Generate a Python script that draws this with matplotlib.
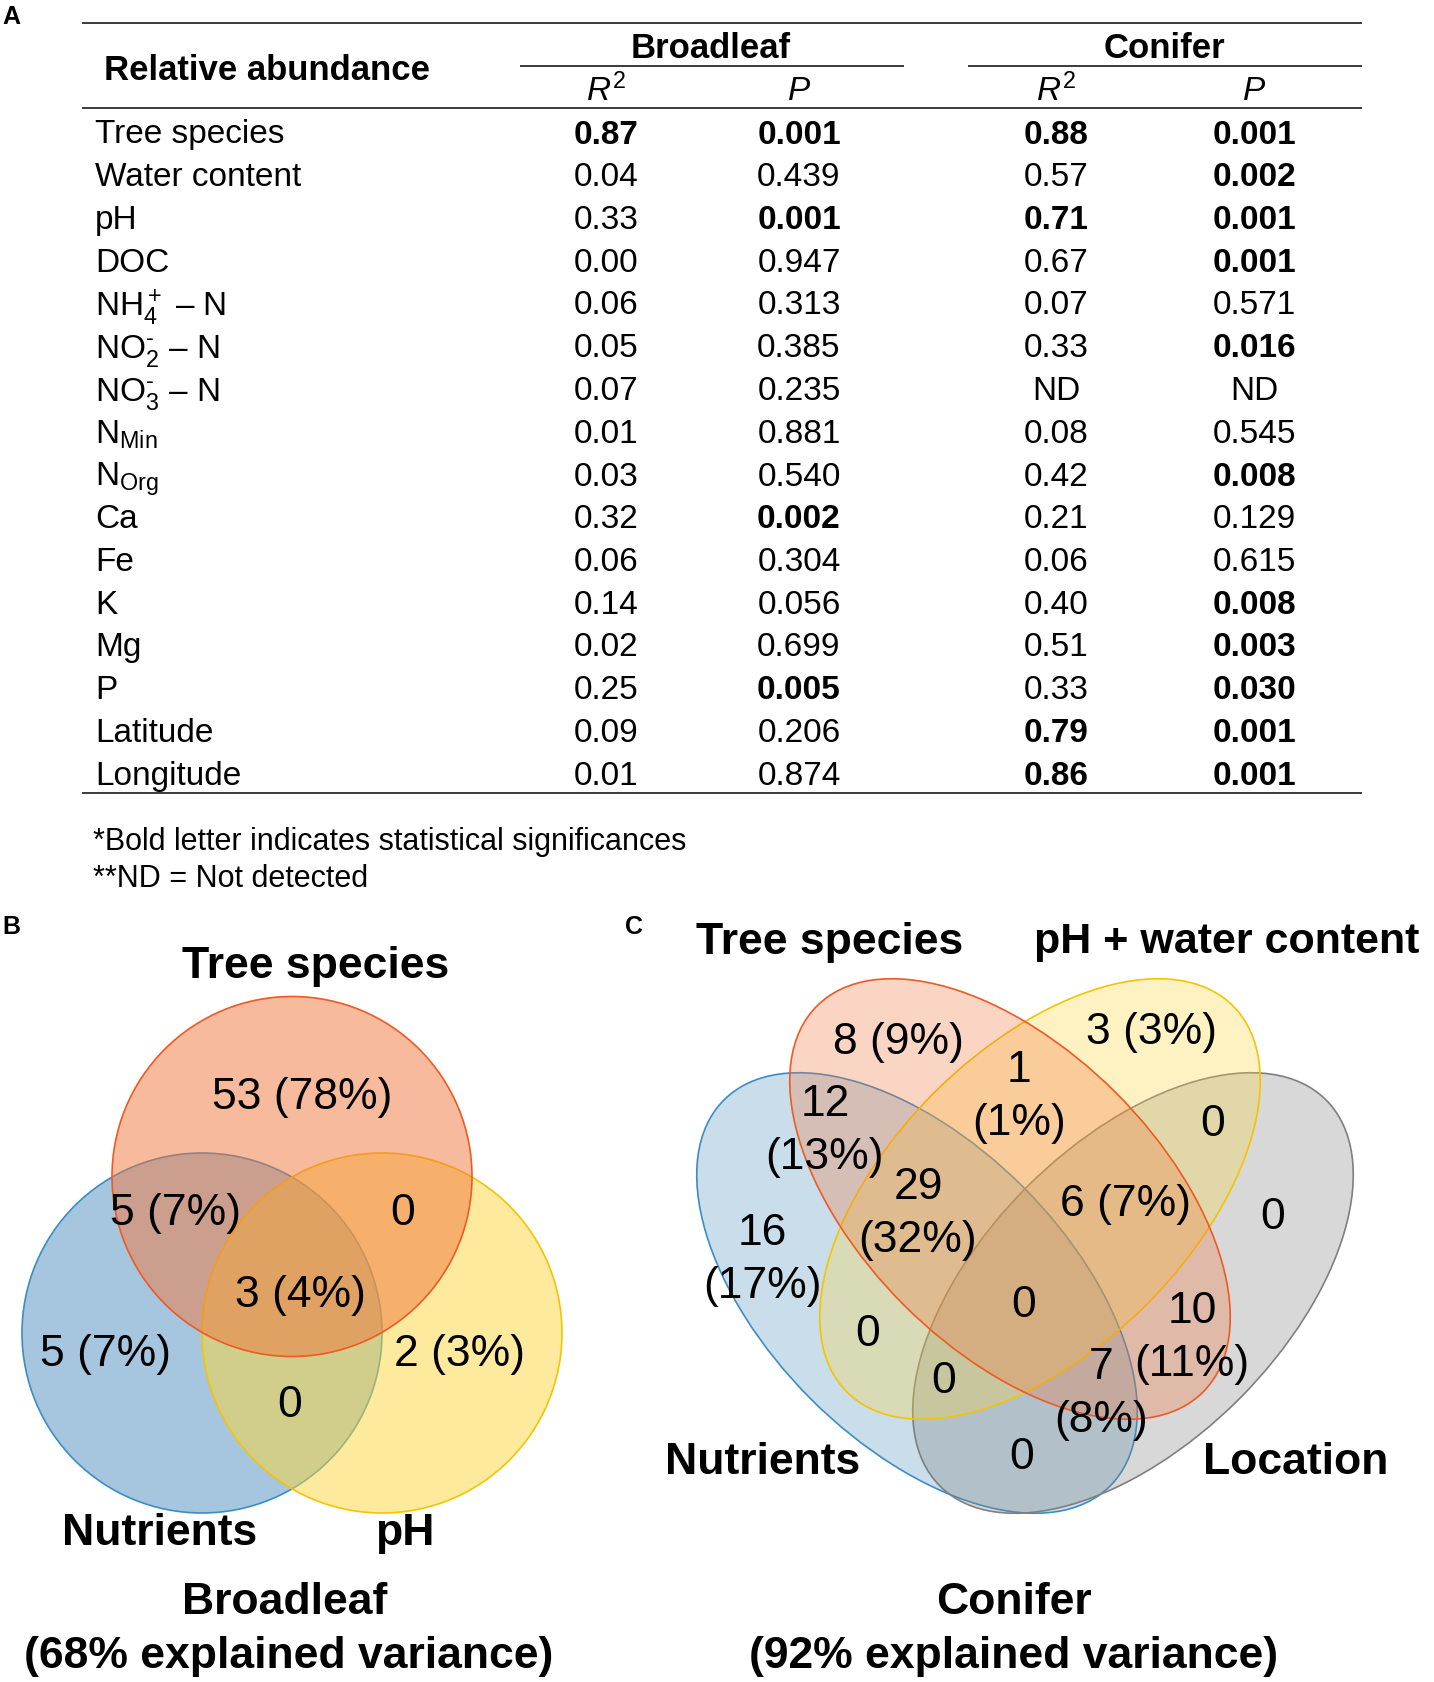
import matplotlib
matplotlib.use("Agg")
import matplotlib.pyplot as plt
from matplotlib.patches import Ellipse, Circle

plt.rcParams['font.family'] = ['Liberation Sans', 'DejaVu Sans']
plt.rcParams['mathtext.fontset'] = 'custom'
plt.rcParams['mathtext.rm'] = 'Liberation Sans'
plt.rcParams['mathtext.it'] = 'Liberation Sans:italic'
plt.rcParams['mathtext.bf'] = 'Liberation Sans:bold'

# ---------------- data ----------------
row_labels = ['Tree species', 'Water content', 'pH', 'DOC',
              r'NH$_4^+$ – N', r'NO$_2^{\text{-}}$ – N', r'NO$_3^{\text{-}}$ – N',
              r'N$_{\mathrm{Min}}$', r'N$_{\mathrm{Org}}$',
              'Ca', 'Fe', 'K', 'Mg', 'P', 'Latitude', 'Longitude']
broad_r2 = [0.87, 0.04, 0.33, 0.00, 0.06, 0.05, 0.07, 0.01, 0.03, 0.32, 0.06, 0.14, 0.02, 0.25, 0.09, 0.01]
broad_p = [0.001, 0.439, 0.001, 0.947, 0.313, 0.385, 0.235, 0.881, 0.540, 0.002, 0.304, 0.056, 0.699, 0.005, 0.206, 0.874]
conif_r2 = [0.88, 0.57, 0.71, 0.67, 0.07, 0.33, None, 0.08, 0.42, 0.21, 0.06, 0.40, 0.51, 0.33, 0.79, 0.86]
conif_p = [0.001, 0.002, 0.001, 0.001, 0.571, 0.016, None, 0.545, 0.008, 0.129, 0.615, 0.008, 0.003, 0.030, 0.001, 0.001]

venn_b_sets = ['Tree species', 'Nutrients', 'pH']
venn_b_counts = [53, 5, 0, 3, 5, 2, 0]
venn_b_pcts = [78, 7, None, 4, 7, 3, None]

venn_c_sets = ['Tree species', 'pH + water content', 'Nutrients', 'Location']
venn_c_counts = [8, 3, 1, 12, 0, 29, 6, 16, 0, 0, 10, 0, 0, 7, 0]
venn_c_pcts = [9, 3, 1, 13, None, 32, 7, 17, None, None, 11, None, None, 8, None]

# ---------------- figure ----------------
W, H = 1434, 1683
fig = plt.figure(figsize=(W / 100, H / 100), dpi=100)
ax = fig.add_axes([0, 0, 1, 1])
ax.set_xlim(0, W)
ax.set_ylim(H, 0)
ax.axis('off')

FS = 24
rule_c = '#3a3a3a'

def hline(y, x0, x1, lw=1.4):
    ax.plot([x0, x1], [y, y], color=rule_c, lw=lw, solid_capstyle='butt')

# Panel A: table
ax.text(11, 17, 'A', fontsize=18, fontweight='bold', ha='center', va='center')
hline(23.5, 82, 1362)
hline(66.5, 520, 904)
hline(66.5, 968, 1362)
hline(108.5, 82, 1362)
hline(793.5, 82, 1362)

ax.text(267, 71, 'Relative abundance', fontsize=25, fontweight='bold', ha='center', va='center')
ax.text(711, 48, 'Broadleaf', fontsize=25, fontweight='bold', ha='center', va='center')
ax.text(1164, 48, 'Conifer', fontsize=25, fontweight='bold', ha='center', va='center')
col_x = [606, 799, 1056, 1254]
for cx, lab in zip(col_x, [r'$R^2$', r'$P$', r'$R^2$', r'$P$']):
    ax.text(cx, 91, lab, fontsize=FS, ha='center', va='center')

y0, dy = 131.5, 42.75
for i, lab in enumerate(row_labels):
    y = y0 + i * dy
    ax.text(95, y, lab, fontsize=FS, ha='left', va='center_baseline')
    vals = [broad_r2[i], broad_p[i], conif_r2[i], conif_p[i]]
    for j, v in enumerate(vals):
        if v is None:
            s, bold = 'ND', False
        elif j % 2 == 0:
            s, bold = f'{v:.2f}', v >= 0.7
        else:
            s, bold = f'{v:.3f}', v < 0.05
        ax.text(col_x[j], y, s, fontsize=FS, ha='center', va='center_baseline',
                fontweight='bold' if bold else 'normal')

ax.text(93, 842, '*Bold letter indicates statistical significances', fontsize=22, ha='left', va='center')
ax.text(93, 879, '**ND = Not detected', fontsize=22, ha='left', va='center')

# Panel B: 3-set Venn
ax.text(11, 927, 'B', fontsize=18, fontweight='bold', ha='center', va='center')
r = 180
b_circles = [((202, 1334), '#4F8FC0', '#3C8DC4'),
             ((382, 1334), '#FCD73A', '#F5C400'),
             ((292, 1177.5), '#F0773C', '#EE5A24')]
for (c, fc, ec) in b_circles:
    ax.add_patch(Circle(c, r, facecolor=fc, alpha=0.5, edgecolor='none'))
    ax.add_patch(Circle(c, r, facecolor='none', edgecolor=ec, lw=1.2))

def fmt(n, p, br=False):
    if p is None:
        return str(n)
    return f'{n}\n({p}%)' if br else f'{n} ({p}%)'

b_pos = [(302, 1098), (175, 1214), (403, 1214), (300, 1296), (106, 1355), (459, 1355), (290, 1406)]
for (x, y), n, p in zip(b_pos, venn_b_counts, venn_b_pcts):
    ax.text(x, y, fmt(n, p), fontsize=32, ha='center', va='center')

ax.text(316, 967, venn_b_sets[0], fontsize=32, fontweight='bold', ha='center', va='center')
ax.text(160, 1534, venn_b_sets[1], fontsize=32, fontweight='bold', ha='center', va='center')
ax.text(405, 1534, venn_b_sets[2], fontsize=32, fontweight='bold', ha='center', va='center')
ax.text(285, 1603, 'Broadleaf', fontsize=32, fontweight='bold', ha='center', va='center')
ax.text(289, 1657, '(68% explained variance)', fontsize=32, fontweight='bold', ha='center', va='center')

# Panel C: 4-set Venn
ax.text(634, 927, 'C', fontsize=18, fontweight='bold', ha='center', va='center')
a2, b2 = 2 * 273, 2 * 150
c_ell = [((917, 1294), 45, '#4F8FC0', '#3C8DC4'),
         ((1133, 1294), -45, '#808080', '#7F7F7F'),
         ((1040, 1200), -45, '#FCD73A', '#F5C400'),
         ((1010, 1200), 45, '#F0773C', '#EE5A24')]
for (c, ang, fc, ec) in c_ell:
    ax.add_patch(Ellipse(c, a2, b2, angle=ang, facecolor=fc, alpha=0.3, edgecolor='none'))
    ax.add_patch(Ellipse(c, a2, b2, angle=ang, facecolor='none', edgecolor=ec, lw=1.2))

c_pos = [(898, 1043, False), (1152, 1033, False), (1019, 1097, True), (825, 1131, True),
         (1213, 1125, False), (918, 1214, True), (1125, 1205, False), (762, 1260, True),
         (1273, 1218, False), (1024, 1306, False), (1192, 1338, True), (868, 1335, False),
         (944, 1382, False), (1101, 1394, True), (1022, 1458, False)]
for (x, y, br), n, p in zip(c_pos, venn_c_counts, venn_c_pcts):
    ax.text(x, y, fmt(n, p, br), fontsize=32, ha='center', va='center', linespacing=1.35)

ax.text(830, 943, venn_c_sets[0], fontsize=32, fontweight='bold', ha='center', va='center')
ax.text(1227, 942, venn_c_sets[1], fontsize=31, fontweight='bold', ha='center', va='center')
ax.text(763, 1463, venn_c_sets[2], fontsize=32, fontweight='bold', ha='center', va='center')
ax.text(1296, 1463, venn_c_sets[3], fontsize=32, fontweight='bold', ha='center', va='center')
ax.text(1014, 1603, 'Conifer', fontsize=32, fontweight='bold', ha='center', va='center')
ax.text(1014, 1657, '(92% explained variance)', fontsize=32, fontweight='bold', ha='center', va='center')

fig.savefig('out.png', dpi=100)
